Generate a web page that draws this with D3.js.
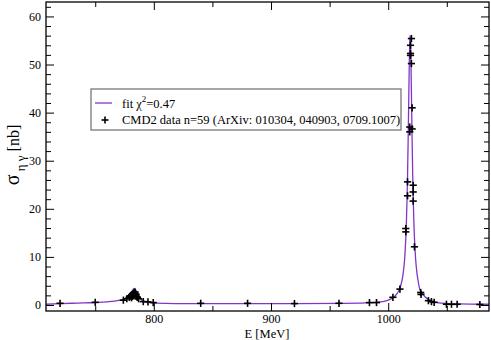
<!DOCTYPE html>
<html><head><meta charset="utf-8">
<script src="https://cdn.jsdelivr.net/npm/d3@7"></script>
<style>html,body{margin:0;padding:0;background:#fff;}svg{display:block;} text{font-family:"Liberation Serif", "Times New Roman", Times, serif;}</style>
</head><body>
<svg id="chart" width="491" height="340"></svg>
<script>
// CMD2 data points: energy (MeV) and cross section (nb)
const dataE = [720, 750,
  774, 777, 779, 779.5, 780, 781, 781, 781.5, 782, 782.5, 783, 783, 783.5, 784, 784, 784.5, 785, 785.5, 786, 787, 791, 795, 799.5,
  840, 880, 920, 958, 984, 990,
  1004, 1010, 1015, 1015, 1016.5, 1016.5, 1018.4, 1018.4, 1019, 1019, 1019, 1019.8, 1019.8, 1020.4, 1020.4,
  1021.3, 1021.3, 1021.3, 1022.4, 1027.7, 1028, 1034.3, 1036.9, 1039.2,
  1049.7, 1054, 1058.8, 1078.2];
const dataS = [0.35, 0.55,
  1.0, 1.3, 1.6, 1.7, 1.9, 2.1, 1.5, 1.8, 2.3, 2.0, 2.5, 1.9, 2.2, 2.4, 2.7, 1.9, 2.2, 1.7, 1.6, 1.3, 0.7, 0.65, 0.5,
  0.35, 0.35, 0.3, 0.35, 0.5, 0.5,
  1.6, 3.3, 15.9, 15.2, 25.6, 22.7, 37.0, 36.0, 54.0, 52.3, 51.9, 55.4, 50.2, 41.0, 36.6,
  24.9, 23.5, 21.6, 12.1, 2.6, 2.2, 0.9, 0.7, 0.55,
  0.15, 0.15, 0.15, 0.1];
// fit curve
const fitE = [708, 720, 735, 750, 760, 770, 775, 778, 780, 782, 783, 783.5, 784, 785.5, 787, 789, 791, 795, 800, 810, 820,
  840, 880, 920, 960, 980, 990, 995, 1000, 1004, 1007, 1010, 1012, 1013, 1014, 1015, 1015.5, 1016, 1016.5, 1017, 1017.5,
  1018, 1018.4, 1018.7, 1019, 1019.4, 1019.9, 1020.4, 1020.9, 1021.4, 1021.9, 1022.4, 1023.4, 1024.4, 1025.4, 1027, 1028,
  1030, 1032, 1035, 1038, 1042, 1050, 1060, 1086];
const fitS = [0.15, 0.28, 0.4, 0.52, 0.65, 0.95, 1.3, 1.8, 2.4, 3.1, 3.4, 3.45, 3.3, 2.7, 1.9, 1.2, 0.85, 0.6, 0.42, 0.33, 0.3,
  0.28, 0.27, 0.28, 0.33, 0.42, 0.55, 0.7, 1.0, 1.5, 2.2, 3.5, 5.4, 7.0, 9.5, 13.9, 17.1, 21.4, 27.0, 34.1, 42.3,
  50.4, 54.9, 56.0, 54.9, 50.5, 42.5, 34.2, 27.1, 21.5, 17.2, 13.9, 9.5, 6.9, 5.2, 3.2, 2.8,
  2.1, 1.55, 1.05, 0.75, 0.5, 0.3, 0.22, 0.15];
const xTicks = [800, 900, 1000];
const xMinor = [750, 850, 950, 1050];
const yTicks = [0, 10, 20, 30, 40, 50, 60];
const yMinor = d3.range(0, 63, 2).filter(v => v % 10 !== 0);
const legendLabels = ["fit  χ", "CMD2 data n=59 (ArXiv: 010304, 040903, 0709.1007)"];

const svg = d3.select("#chart");
const L = 46, R = 489, T = 2, B = 311;
const x = d3.scaleLinear().domain([708, 1086]).range([L, R]);
const y = d3.scaleLinear().domain([-1.25, 63]).range([B, T]);

// fit line
const fitData = fitE.map((e, i) => [e, fitS[i]]);
svg.append("path").datum(fitData)
  .attr("fill", "none").attr("stroke", "#8236c8").attr("stroke-width", 1.3)
  .attr("d", d3.line().x(d => x(d[0])).y(d => y(d[1])).curve(d3.curveMonotoneX));

// data plus markers
const pts = dataE.map((e, i) => [e, dataS[i]]);
const g = svg.append("g").attr("stroke", "#000").attr("stroke-width", 1.6);
pts.forEach(p => {
  const cx = x(p[0]), cy = y(p[1]), h = 3.6;
  g.append("line").attr("x1", cx - h).attr("x2", cx + h).attr("y1", cy).attr("y2", cy);
  g.append("line").attr("x1", cx).attr("x2", cx).attr("y1", cy - h).attr("y2", cy + h);
});

// axes with inward ticks
const axB = d3.axisBottom(x).tickValues(xTicks).tickSize(-8).tickPadding(3).tickFormat(d3.format("d"));
const axBm = d3.axisBottom(x).tickValues(xMinor).tickSize(-5).tickFormat("");
const axT = d3.axisTop(x).tickValues(xTicks).tickSize(-8).tickFormat("");
const axTm = d3.axisTop(x).tickValues(xMinor).tickSize(-5).tickFormat("");
const axL = d3.axisLeft(y).tickValues(yTicks).tickSize(-8).tickPadding(5).tickFormat(d3.format("d"));
const axLm = d3.axisLeft(y).tickValues(yMinor).tickSize(-5).tickFormat("");
const axR = d3.axisRight(y).tickValues(yTicks).tickSize(-8).tickFormat("");
const axRm = d3.axisRight(y).tickValues(yMinor).tickSize(-5).tickFormat("");
function put(ax, tr) {
  const a = svg.append("g").attr("transform", tr).call(ax);
  a.attr("font-family", null);
  a.select(".domain").remove();
  a.selectAll("line").attr("stroke", "#000").attr("stroke-width", 1);
  a.selectAll("text").attr("font-size", 12).attr("fill", "#000");
  return a;
}
put(axB, `translate(0,${B})`); put(axBm, `translate(0,${B})`);
put(axT, `translate(0,${T})`); put(axTm, `translate(0,${T})`);
put(axL, `translate(${L},0)`); put(axLm, `translate(${L},0)`);
put(axR, `translate(${R},0)`); put(axRm, `translate(${R},0)`);

svg.append("rect").attr("x", L).attr("y", T).attr("width", R - L).attr("height", B - T)
  .attr("fill", "none").attr("stroke", "#000").attr("stroke-width", 1.3);

// axis titles
svg.append("text").attr("x", 267).attr("y", 337.5).attr("text-anchor", "middle")
  .attr("font-size", 12.5).text("E [MeV]");
const yl = svg.append("text").attr("transform", "translate(19,155) rotate(-90)")
  .attr("text-anchor", "middle");
yl.append("tspan").attr("font-size", 20).text("σ");
yl.append("tspan").attr("font-size", 13).attr("dy", 6).text(" η γ");
yl.append("tspan").attr("font-size", 16).attr("dy", -6).text(" [nb]");

// legend
const lg = svg.append("g");
lg.append("rect").attr("x", 91).attr("y", 89).attr("width", 310).attr("height", 41)
  .attr("fill", "#fff").attr("stroke", "#777").attr("stroke-width", 1.3);
lg.append("line").attr("x1", 95).attr("x2", 112).attr("y1", 103).attr("y2", 103)
  .attr("stroke", "#8236c8").attr("stroke-width", 1.3);
const t1 = lg.append("text").attr("x", 122).attr("y", 107.5).attr("font-size", 12.5);
t1.append("tspan").text(legendLabels[0]);
t1.append("tspan").attr("font-size", 9).attr("dy", -6).text("2");
t1.append("tspan").attr("dy", 6).text("=0.47");
lg.append("line").attr("x1", 101.5).attr("x2", 108.5).attr("y1", 120).attr("y2", 120).attr("stroke", "#000").attr("stroke-width", 1.6);
lg.append("line").attr("x1", 105).attr("x2", 105).attr("y1", 116.5).attr("y2", 123.5).attr("stroke", "#000").attr("stroke-width", 1.6);
lg.append("text").attr("x", 122).attr("y", 124).attr("font-size", 12.5).text(legendLabels[1]);
</script>
</body></html>
